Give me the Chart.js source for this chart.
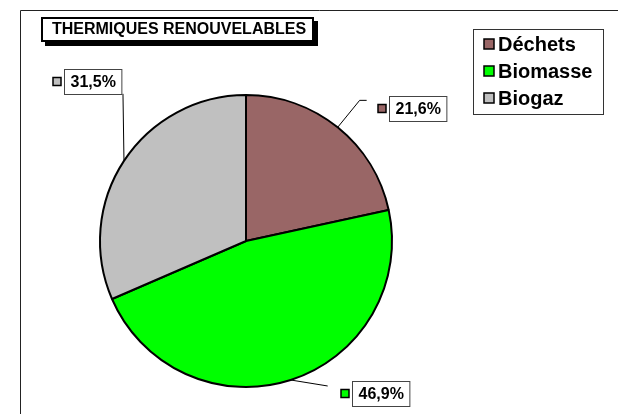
<!DOCTYPE html>
<html>
<head>
<meta charset="utf-8">
<script src="https://cdn.jsdelivr.net/npm/chart.js@4/dist/chart.umd.min.js"></script>
<style>
  html, body { margin: 0; padding: 0; background: #fff; }
  #wrap { width: 618px; height: 414px; position: relative; }
</style>
</head>
<body>
<div id="wrap"><canvas id="canvas" width="618" height="414"></canvas></div>
<script>
// Données du graphique
const titre = 'THERMIQUES RENOUVELABLES';
const categories = ['Déchets', 'Biomasse', 'Biogaz'];
const valeurs = [21.6, 46.9, 31.5];
const etiquettes = ['21,6%', '46,9%', '31,5%'];
const couleurs = ['#996666', '#00FF00', '#C0C0C0'];

// Placement des étiquettes, relatif au bord de chaque part
const placementEtiquettes = [
  { ligne: [[22, -27], [29, -27]], boite: [51, -31] },
  { ligne: [[37, 6]], boite: [61, 1] },
  { ligne: [[-1, -67]], boite: [-60, -92] },
];

const police = "'Liberation Sans', Arial, sans-serif";

// Plugin qui dessine le cadre, le titre, la légende et les étiquettes
const decorPlugin = {
  id: 'decor',
  afterDraw(chart) {
    const ctx = chart.ctx;
    ctx.save();

    // cadre
    ctx.strokeStyle = '#222';
    ctx.lineWidth = 1;
    ctx.beginPath();
    ctx.moveTo(20.5, 414);
    ctx.lineTo(20.5, 10.5);
    ctx.lineTo(618, 10.5);
    ctx.stroke();

    // titre avec ombre
    ctx.fillStyle = '#000';
    ctx.fillRect(45, 21, 273, 25);
    ctx.fillStyle = '#fff';
    ctx.fillRect(41, 17, 273, 25);
    ctx.strokeStyle = '#000';
    ctx.lineWidth = 2;
    ctx.strokeRect(42, 18, 271, 23);
    ctx.fillStyle = '#000';
    ctx.font = 'bold 16px ' + police;
    ctx.textAlign = 'center';
    ctx.textBaseline = 'middle';
    ctx.fillText(titre, 179, 30);

    // légende
    ctx.lineWidth = 1;
    ctx.strokeStyle = '#333';
    ctx.fillStyle = '#fff';
    ctx.fillRect(473, 29, 130, 85);
    ctx.strokeRect(473.5, 29.5, 130, 85);
    ctx.font = 'bold 20px ' + police;
    ctx.textAlign = 'left';
    categories.forEach((cat, i) => {
      const yc = 44 + i * 27;
      ctx.fillStyle = couleurs[i];
      ctx.fillRect(484, yc - 5, 10, 10);
      ctx.strokeStyle = '#000';
      ctx.lineWidth = 1.5;
      ctx.strokeRect(484, yc - 5, 10, 10);
      ctx.fillStyle = '#000';
      ctx.fillText(cat, 498, yc + 1);
    });

    // étiquettes de données
    const meta = chart.getDatasetMeta(0);
    ctx.font = 'bold 16px ' + police;
    meta.data.forEach((arc, i) => {
      const p = arc.getProps(['x', 'y', 'startAngle', 'endAngle', 'outerRadius'], true);
      const mid = (p.startAngle + p.endAngle) / 2;
      const ex = p.x + Math.cos(mid) * p.outerRadius;
      const ey = p.y + Math.sin(mid) * p.outerRadius;
      const pl = placementEtiquettes[i];

      ctx.strokeStyle = '#000';
      ctx.lineWidth = 1;
      ctx.beginPath();
      ctx.moveTo(ex, ey);
      pl.ligne.forEach(([dx, dy]) => ctx.lineTo(ex + dx, ey + dy));
      ctx.stroke();

      const w = ctx.measureText(etiquettes[i]).width + 12;
      const h = 25;
      const bx = Math.round(ex + pl.boite[0]);
      const by = Math.round(ey + pl.boite[1]);
      ctx.fillStyle = '#fff';
      ctx.fillRect(bx, by, w, h);
      ctx.strokeStyle = '#444';
      ctx.strokeRect(bx + 0.5, by + 0.5, w, h);
      ctx.fillStyle = '#000';
      ctx.textAlign = 'center';
      ctx.fillText(etiquettes[i], bx + w / 2 + 0.5, by + h / 2 + 1);

      ctx.fillStyle = couleurs[i];
      ctx.fillRect(bx - 11, by + h / 2 - 4, 8, 8);
      ctx.lineWidth = 1.5;
      ctx.strokeStyle = '#000';
      ctx.strokeRect(bx - 11, by + h / 2 - 4, 8, 8);
    });

    ctx.restore();
  }
};

const graphique = new Chart(document.getElementById('canvas'), {
  type: 'pie',
  data: {
    labels: categories,
    datasets: [{
      data: valeurs,
      backgroundColor: couleurs,
      borderColor: '#000',
      borderWidth: 2,
    }],
  },
  options: {
    responsive: false,
    animation: false,
    events: [],
    layout: { padding: { left: 99, right: 225, top: 94, bottom: 26 } },
    plugins: {
      legend: { display: false },
      tooltip: { enabled: false },
      title: { display: false },
    },
  },
  plugins: [decorPlugin],
});
</script>
</body>
</html>
